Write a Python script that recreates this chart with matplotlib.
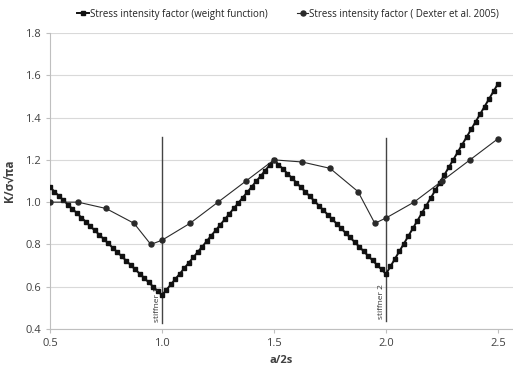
import matplotlib
matplotlib.use("Agg")
import matplotlib.pyplot as plt

# weight function solution (a/2s, K/sigma*sqrt(pi*a))
wf_x = [
    0.50, 0.52, 0.54, 0.56, 0.58, 0.60, 0.62, 0.64, 0.66, 0.68,
    0.70, 0.72, 0.74, 0.76, 0.78, 0.80, 0.82, 0.84, 0.86, 0.88,
    0.90, 0.92, 0.94, 0.96, 0.98, 1.00, 1.02, 1.04, 1.06, 1.08,
    1.10, 1.12, 1.14, 1.16, 1.18, 1.20, 1.22, 1.24, 1.26, 1.28,
    1.30, 1.32, 1.34, 1.36, 1.38, 1.40, 1.42, 1.44, 1.46, 1.48,
    1.50, 1.52, 1.54, 1.56, 1.58, 1.60, 1.62, 1.64, 1.66, 1.68,
    1.70, 1.72, 1.74, 1.76, 1.78, 1.80, 1.82, 1.84, 1.86, 1.88,
    1.90, 1.92, 1.94, 1.96, 1.98, 2.00, 2.02, 2.04, 2.06, 2.08,
    2.10, 2.12, 2.14, 2.16, 2.18, 2.20, 2.22, 2.24, 2.26, 2.28,
    2.30, 2.32, 2.34, 2.36, 2.38, 2.40, 2.42, 2.44, 2.46, 2.48,
    2.50,
]
wf_k = [
    1.070, 1.050, 1.029, 1.009, 0.988, 0.968, 0.948, 0.927, 0.907, 0.886,
    0.866, 0.846, 0.825, 0.805, 0.784, 0.764, 0.744, 0.723, 0.703, 0.682,
    0.662, 0.642, 0.621, 0.601, 0.580, 0.560, 0.586, 0.611, 0.637, 0.662,
    0.688, 0.714, 0.739, 0.765, 0.790, 0.816, 0.842, 0.867, 0.893, 0.918,
    0.944, 0.970, 0.995, 1.021, 1.046, 1.072, 1.098, 1.123, 1.149, 1.174,
    1.200, 1.178, 1.157, 1.135, 1.114, 1.092, 1.070, 1.049, 1.027, 1.006,
    0.984, 0.962, 0.941, 0.919, 0.898, 0.876, 0.854, 0.833, 0.811, 0.790,
    0.768, 0.746, 0.725, 0.703, 0.682, 0.660, 0.696, 0.732, 0.768, 0.804,
    0.840, 0.876, 0.912, 0.948, 0.984, 1.020, 1.056, 1.092, 1.128, 1.164,
    1.200, 1.236, 1.272, 1.308, 1.344, 1.380, 1.416, 1.452, 1.488, 1.524,
    1.560,
]

# Dexter et al. 2005
dx_x = [0.50, 0.625, 0.75, 0.875, 0.95, 1.00, 1.125, 1.25, 1.375, 1.50,
        1.625, 1.75, 1.875, 1.95, 2.00, 2.125, 2.25, 2.375, 2.50]
dx_k = [1.00, 1.00, 0.97, 0.90, 0.80, 0.82, 0.90, 1.00, 1.10, 1.20,
        1.19, 1.16, 1.05, 0.90, 0.925, 1.00, 1.10, 1.20, 1.30]

# stiffener positions and line extents
stiff_x = [1.0, 2.0]
stiff_lo = [0.427, 0.44]
stiff_hi = [1.307, 1.305]
stiff_names = ["stiffner 1", "stiffner 2"]

xticks = [0.5, 1.0, 1.5, 2.0, 2.5]
yticks = [0.4, 0.6, 0.8, 1.0, 1.2, 1.4, 1.6, 1.8]

plt.rcParams['font.family'] = ['Open Sans', 'DejaVu Sans']
txt = '#404040'

fig = plt.figure(figsize=(5.13, 3.65), dpi=100)
ax = fig.add_axes([0.0975, 0.0986, 0.9025, 0.811])

ax.plot(wf_x, wf_k, color='#111111', lw=1.4, marker='s', ms=3.4,
        label='Stress intensity factor (weight function)', zorder=3)
ax.plot(dx_x, dx_k, color='#2a2a2a', lw=0.8, marker='o', ms=3.6,
        label='Stress intensity factor ( Dexter et al. 2005)', zorder=4)

for sx, lo, hi, name in zip(stiff_x, stiff_lo, stiff_hi, stiff_names):
    ax.plot([sx, sx], [lo, hi], color='#444444', lw=1.0, zorder=2)
    ax.text(sx - 0.006, lo + 0.005, name, rotation=90, ha='right', va='bottom',
            fontsize=6, color='#333333')

ax.set_xlim(0.5, 2.567)
ax.set_ylim(0.4, 1.8)
ax.set_xticks(xticks)
ax.set_yticks(yticks)
ax.set_xticklabels([f"{v:.1f}" for v in xticks])
ax.set_yticklabels([f"{v:.1f}" for v in yticks])
ax.tick_params(colors='#bfbfbf', labelcolor=txt, labelsize=8, length=3, width=0.8)
ax.grid(axis='y', color='#d9d9d9', lw=0.8)
ax.set_axisbelow(True)
for s in ['top', 'right']:
    ax.spines[s].set_visible(False)
for s in ['left', 'bottom']:
    ax.spines[s].set_color('#bfbfbf')
    ax.spines[s].set_linewidth(0.8)

ax.set_xlabel('a/2s', fontsize=8, fontweight='bold', color=txt, labelpad=4)
ax.set_ylabel('K/σ√πa', fontsize=8.5, fontweight='bold', color=txt, labelpad=6)

fig.legend(loc='upper center', bbox_to_anchor=(0.562, 1.0), ncol=2, frameon=False,
           fontsize=7, handlelength=1.2, handletextpad=0.1, columnspacing=3.0,
           labelcolor='#222222')

fig.savefig('out.png', dpi=100)
